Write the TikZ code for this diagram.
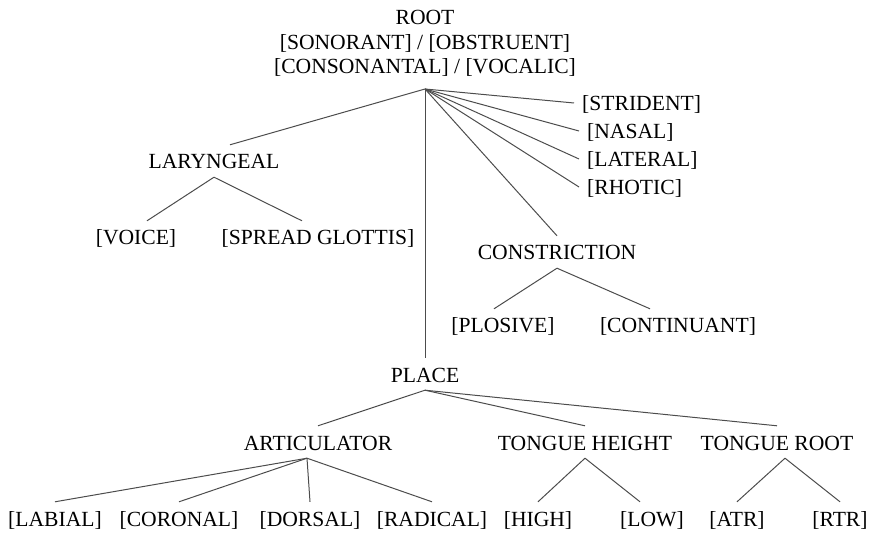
\documentclass[tikz,border=0pt]{standalone}
\usepackage{fontspec}
\setmainfont{Liberation Serif}

\begin{document}
\begin{tikzpicture}[
			x=1pt, y=-1pt,
			font=\fontsize{21.6}{24.5}\selectfont,
			feat/.style={inner xsep=10pt, inner ysep=6pt, text height=18pt, text depth=2pt, anchor=base},
			side/.style={feat, inner xsep=8pt, anchor=base west},
			rootnode/.style={align=center, inner xsep=4pt, inner ysep=12pt, anchor=south},
			edge/.style={line width=1pt, draw=black!70},
		]
			\useasboundingbox (0,0) rectangle (875,534);
			\node[rootnode] (root) at (425,89) {ROOT\\{}[SONORANT] / [OBSTRUENT]\\{}[CONSONANTAL] / [VOCALIC]};
			\node[feat] (lar) at (214,169) {LARYNGEAL};
			\node[feat] (voice) at (136,245) {[VOICE]};
			\node[feat] (spread) at (318,245) {[SPREAD GLOTTIS]};
			\node[side] (strident) at (574,111) {[STRIDENT]};
			\node[side] (nasal) at (579,139) {[NASAL]};
			\node[side] (lateral) at (579,167) {[LATERAL]};
			\node[side] (rhotic) at (579,195) {[RHOTIC]};
			\node[feat] (constr) at (557,260) {CONSTRICTION};
			\node[feat] (plosive) at (503,333) {[PLOSIVE]};
			\node[feat] (cont) at (678,333) {[CONTINUANT]};
			\node[feat] (place) at (425,382) {PLACE};
			\node[feat] (artic) at (318,450) {ARTICULATOR};
			\node[feat] (height) at (585,450) {TONGUE HEIGHT};
			\node[feat] (troot) at (777,450) {TONGUE ROOT};
			\node[feat] (labial) at (55,526) {[LABIAL]};
			\node[feat] (coronal) at (179,526) {[CORONAL]};
			\node[feat] (dorsal) at (310,526) {[DORSAL]};
			\node[feat] (radical) at (432,526) {[RADICAL]};
			\node[feat] (high) at (538,526) {[HIGH]};
			\node[feat] (low) at (652,526) {[LOW]};
			\node[feat] (atr) at (737,526) {[ATR]};
			\node[feat] (rtr) at (840,526) {[RTR]};

			\draw[edge] (root.south) -- ([xshift=16pt]lar.north);
			\draw[edge] (root.south) -- (place.north);
			\draw[edge] (root.south) -- (constr.north);
			\draw[edge] (root.south) -- (strident.west);
			\draw[edge] (root.south) -- (nasal.west);
			\draw[edge] (root.south) -- (lateral.west);
			\draw[edge] (root.south) -- (rhotic.west);
			\draw[edge] (lar.south) -- ([xshift=11pt]voice.north);
			\draw[edge] (lar.south) -- ([xshift=-16pt]spread.north);
			\draw[edge] (constr.south) -- ([xshift=-9pt]plosive.north);
			\draw[edge] (constr.south) -- ([xshift=-28pt]cont.north);
			\draw[edge] (place.south) -- (artic.north);
			\draw[edge] (place.south) -- (height.north);
			\draw[edge] (place.south) -- (troot.north);
			\draw[edge] ([xshift=-11pt]artic.south) -- (labial.north);
			\draw[edge] ([xshift=-11pt]artic.south) -- (coronal.north);
			\draw[edge] ([xshift=-11pt]artic.south) -- (dorsal.north);
			\draw[edge] ([xshift=-11pt]artic.south) -- (radical.north);
			\draw[edge] (height.south) -- (high.north);
			\draw[edge] (height.south) -- ([xshift=-12pt]low.north);
			\draw[edge] ([xshift=8pt]troot.south) -- (atr.north);
			\draw[edge] ([xshift=8pt]troot.south) -- (rtr.north);
		\end{tikzpicture}
\end{document}
